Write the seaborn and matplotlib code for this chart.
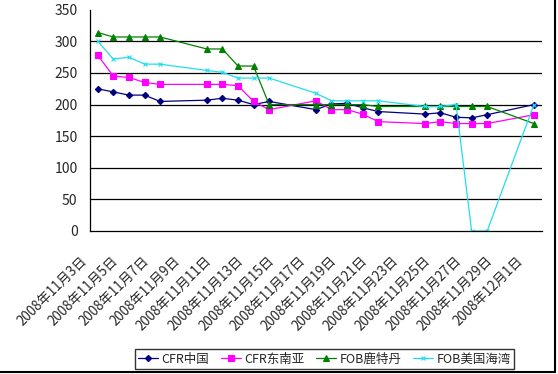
import seaborn as sns
import matplotlib.pyplot as plt
import matplotlib.dates as mdates
import matplotlib.transforms as mtransforms
from matplotlib.lines import Line2D
import pandas as pd

dates = ['2008-11-03', '2008-11-04', '2008-11-05', '2008-11-06', '2008-11-07',
         '2008-11-10', '2008-11-11', '2008-11-12', '2008-11-13', '2008-11-14',
         '2008-11-17', '2008-11-18', '2008-11-19', '2008-11-20', '2008-11-21',
         '2008-11-24', '2008-11-25', '2008-11-26', '2008-11-27', '2008-11-28',
         '2008-12-01']
cfr_china = [225, 220, 215, 215, 205, 207, 210, 207, 200, 205, 192, 201, 202, 195, 189,
             185, 187, 180, 179, 184, 200]
cfr_sea = [278, 245, 243, 235, 232, 232, 232, 230, 205, 192, 206, 192, 192, 185, 173,
           170, 173, 170, 170, 170, 184]
fob_rotterdam = [314, 307, 307, 307, 307, 288, 288, 261, 261, 200, 200, 200, 200, 200, 197,
                 197, 197, 197, 197, 197, 170]
fob_gulf = [300, 272, 275, 264, 264, 254, 251, 242, 242, 242, 218, 206, 206, 206, 206,
            197, 197, 200, 0, 0, 200]
series_names = ['CFR中国', 'CFR东南亚', 'FOB鹿特丹', 'FOB美国海湾']
label_dates = ['2008-11-03', '2008-11-05', '2008-11-07', '2008-11-09', '2008-11-11',
               '2008-11-13', '2008-11-15', '2008-11-17', '2008-11-19', '2008-11-21',
               '2008-11-23', '2008-11-25', '2008-11-27', '2008-11-29', '2008-12-01']
tick_labels = ['2008年11月3日', '2008年11月5日', '2008年11月7日', '2008年11月9日',
               '2008年11月11日', '2008年11月13日', '2008年11月15日', '2008年11月17日',
               '2008年11月19日', '2008年11月21日', '2008年11月23日', '2008年11月25日',
               '2008年11月27日', '2008年11月29日', '2008年12月1日']

sns.set_style('white')
plt.rcParams['font.family'] = ['Noto Sans CJK SC', 'DejaVu Sans']

df = pd.DataFrame({'date': pd.to_datetime(dates)})
for name, vals in zip(series_names, [cfr_china, cfr_sea, fob_rotterdam, fob_gulf]):
    df[name] = vals
df = df.melt(id_vars='date', var_name='series', value_name='price')

colors = ['#000080', '#FF00FF', '#008000', '#22DDEE']
markers = ['D', 's', '^', 'x']
msizes = [3.2, 4, 4.5, 3.5]

fig = plt.figure(figsize=(5.58, 3.74), dpi=100)
ax = fig.add_axes([0.1613, 0.3824, 0.9708 - 0.1613, 0.9738 - 0.3824])

for name, c, m, ms in zip(series_names, colors, markers, msizes):
    sns.lineplot(data=df[df['series'] == name], x='date', y='price', color=c,
                 marker=m, markersize=ms, markeredgecolor=c, markeredgewidth=0.8,
                 linewidth=0.9, label=name, ax=ax)

start = pd.Timestamp('2008-11-03') - pd.Timedelta(hours=12)
end = pd.Timestamp('2008-12-01') + pd.Timedelta(hours=12)
ax.set_xlim(mdates.date2num(start), mdates.date2num(end))
ax.set_ylim(0, 350)
ax.set_yticks(range(0, 351, 50))
for v in range(50, 301, 50):
    ax.axhline(v, color='black', linewidth=0.9, zorder=0)

bounds = pd.date_range(start + pd.Timedelta(days=2), end - pd.Timedelta(days=1), freq='2D')
ax.set_xticks(mdates.date2num(bounds))
ax.set_xticklabels([])
ax.set_xticks(mdates.date2num(pd.to_datetime(label_dates)), minor=True)
ax.set_xticklabels(tick_labels, minor=True, rotation=45, ha='right', va='center',
                   rotation_mode='anchor', fontsize=9.6)

ax.tick_params(axis='x', which='major', direction='in', length=4, width=0.8, color='black')
ax.tick_params(axis='x', which='minor', length=0, pad=19.5)
ax.tick_params(axis='y', direction='in', length=4, width=0.8, color='black', pad=9,
               labelsize=10)
ax.set_xlabel('')
ax.set_ylabel('')
for s in ['top', 'right']:
    ax.spines[s].set_visible(False)
for s in ['left', 'bottom']:
    ax.spines[s].set_color('black')
    ax.spines[s].set_linewidth(0.9)

# shift the rotated date labels left (after tick_params, which resets transforms)
offset = mtransforms.ScaledTranslation(-13 / 100, 0, fig.dpi_scale_trans)
for lab in ax.get_xticklabels(minor=True):
    lab.set_transform(lab.get_transform() + offset)

leg = ax.legend(loc='center', bbox_to_anchor=(0.5815, 0.040), bbox_transform=fig.transFigure,
                ncol=4, frameon=True, fancybox=False, fontsize=9, handlelength=1.6,
                columnspacing=0.9, handletextpad=0.3, borderpad=0.25)
leg.get_frame().set_edgecolor('black')
leg.get_frame().set_linewidth(1)

fig.add_artist(Line2D([0.9946, 0.9946], [0.0053, 1.0], transform=fig.transFigure,
                      color='black', linewidth=1.5))
fig.add_artist(Line2D([0.0, 0.9946], [0.0053, 0.0053], transform=fig.transFigure,
                      color='black', linewidth=1.5))

fig.savefig('out.png', dpi=100)
